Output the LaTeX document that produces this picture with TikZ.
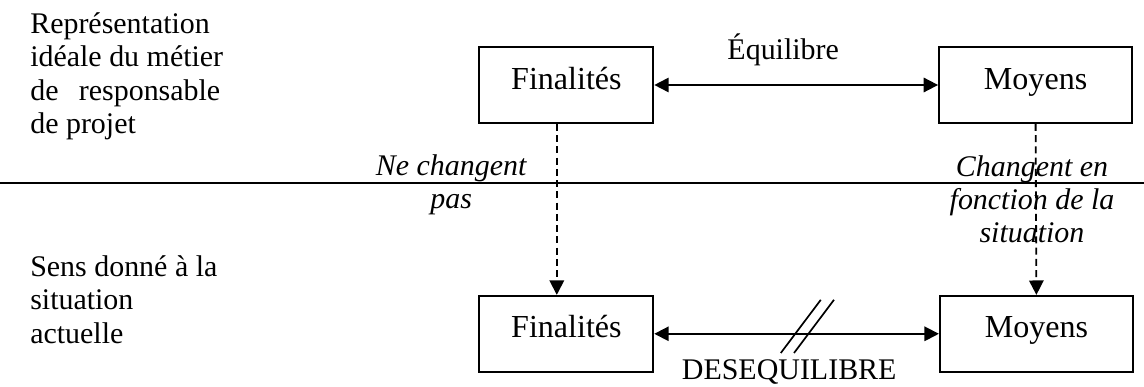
\documentclass[tikz,border=0pt]{standalone}
\usepackage{fontspec}
\setmainfont{Liberation Serif}
\usetikzlibrary{arrows.meta,positioning}

\begin{document}
\begin{tikzpicture}[>={Triangle[length=0.36cm,width=0.36cm]},
    font=\fontsize{21.3}{23.8}\selectfont,
    box/.style={draw, line width=1.3pt, minimum width=4.35cm, minimum height=1.9cm, inner sep=0pt,
      text height=0.55cm, text depth=0.34cm, font=\fontsize{22.8}{25}\selectfont},
    side/.style={align=left, inner sep=0pt, anchor=north west},
    note/.style={align=center, inner sep=0pt, anchor=base, font=\fontsize{21.3}{23.8}\selectfont\itshape}]
        \useasboundingbox (0,0) rectangle (28.6,9.675);
        % separation line
        \draw[line width=1.2pt] (0,5.1) -- (28.6,5.1);
        % boxes
        \node[box] (finTop) at (14.16,7.55) {Finalités};
        \node[box, minimum width=4.83cm] (moyTop) at (25.89,7.55) {Moyens};
        \node[box] (finBot) at (14.16,1.33) {Finalités};
        \node[box, minimum width=4.83cm] (moyBot) at (25.91,1.33) {Moyens};
        % connectors
        \draw[<->, line width=1.3pt] (finTop) -- (moyTop);
        \draw[<->, line width=1.3pt] (finBot) -- (moyBot);
        \draw[->, dashed, dash pattern=on 5pt off 3pt, line width=1.3pt] ([xshift=-0.24cm]finTop.south) -- ([xshift=-0.24cm]finBot.north);
        \draw[->, dashed, dash pattern=on 5pt off 3pt, line width=1.3pt] (moyTop.south) -- (moyBot.north);
        \draw[line width=1.2pt] (19.52,0.85) -- (20.52,2.18);
        \draw[line width=1.2pt] (19.85,0.85) -- (20.85,2.18);
        % labels
        \node[inner sep=0pt, anchor=base] (equi) at (19.58,8.18) {Équilibre};
        \node[inner sep=0pt, anchor=base] (deseq) at (19.73,0.18) {DESEQUILIBRE};
        \node[note] (fixe) at (11.28,4.46) {Ne changent\\ pas};
        \node[note] (varie) at (25.8,3.6) {Changent en\\ fonction de la\\ situation};
        \node[side] (ideal) at (0.75,9.37) {Représentation\\ idéale du métier\\ \makebox[4.75cm][s]{de responsable}\\ de projet};
        \node[side] (sens) at (0.75,3.29) {Sens donné à la\\ situation\\ actuelle};
\end{tikzpicture}
\end{document}
